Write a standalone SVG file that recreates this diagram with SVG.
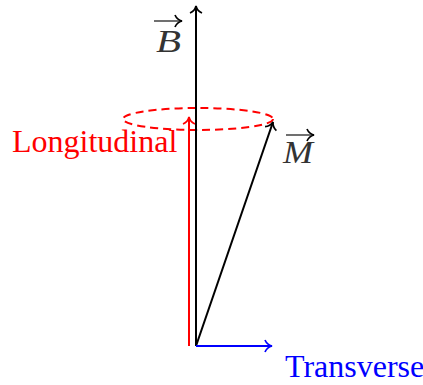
<svg xmlns="http://www.w3.org/2000/svg" width="423" height="385" viewBox="0 0 423 385">
<defs>
<style>
.ln{fill:none;stroke-width:2}
.t{font-family:"Liberation Serif","Times New Roman",serif;font-size:32px}
.v{font-family:"Liberation Serif","Times New Roman",serif;font-size:32px;font-style:italic;fill:#333}
</style>
<marker id="aK" markerWidth="14" markerHeight="14" viewBox="-10 -7 12 14" refX="0" refY="0" orient="auto" markerUnits="userSpaceOnUse"><path d="M-7,-6 C-5.5,-2.5 -2,-0.5 0,0 C-2,0.5 -5.5,2.5 -7,6" fill="none" stroke="#000" stroke-width="1.7"/></marker>
<marker id="aR" markerWidth="14" markerHeight="14" viewBox="-10 -7 12 14" refX="0" refY="0" orient="auto" markerUnits="userSpaceOnUse"><path d="M-7,-6 C-5.5,-2.5 -2,-0.5 0,0 C-2,0.5 -5.5,2.5 -7,6" fill="none" stroke="#f00" stroke-width="1.7"/></marker>
<marker id="aB" markerWidth="14" markerHeight="14" viewBox="-10 -7 12 14" refX="0" refY="0" orient="auto" markerUnits="userSpaceOnUse"><path d="M-7,-6 C-5.5,-2.5 -2,-0.5 0,0 C-2,0.5 -5.5,2.5 -7,6" fill="none" stroke="#00f" stroke-width="1.7"/></marker>
</defs>
<g id="connectors">
<ellipse cx="198" cy="119" rx="75" ry="11" class="ln" stroke="#f00" stroke-dasharray="8,5"/>
<line x1="189" y1="346" x2="189" y2="117" class="ln" stroke="#f00" marker-end="url(#aR)"/>
<line x1="196" y1="346" x2="196" y2="6" class="ln" stroke="#000" marker-end="url(#aK)"/>
<line x1="196" y1="346" x2="273" y2="122" class="ln" stroke="#000" marker-end="url(#aK)"/>
<line x1="196" y1="346" x2="272" y2="346" class="ln" stroke="#00f" marker-end="url(#aB)"/>
</g>
<g id="label-B">
<text x="156" y="52" class="v" textLength="25" lengthAdjust="spacingAndGlyphs">B</text>
<line x1="154" y1="21" x2="182" y2="21" stroke="#333" stroke-width="1.4" marker-end="url(#aK)"/>
</g>
<g id="label-M">
<text x="283" y="163" class="v" textLength="30" lengthAdjust="spacingAndGlyphs">M</text>
<line x1="286" y1="135" x2="314" y2="135" stroke="#333" stroke-width="1.4" marker-end="url(#aK)"/>
</g>
<g id="label-longitudinal">
<text x="12" y="152" class="t" fill="#f00">Longitudinal</text>
</g>
<g id="label-transverse">
<text x="285" y="377" class="t" fill="#00f">Transverse</text>
</g>
</svg>
